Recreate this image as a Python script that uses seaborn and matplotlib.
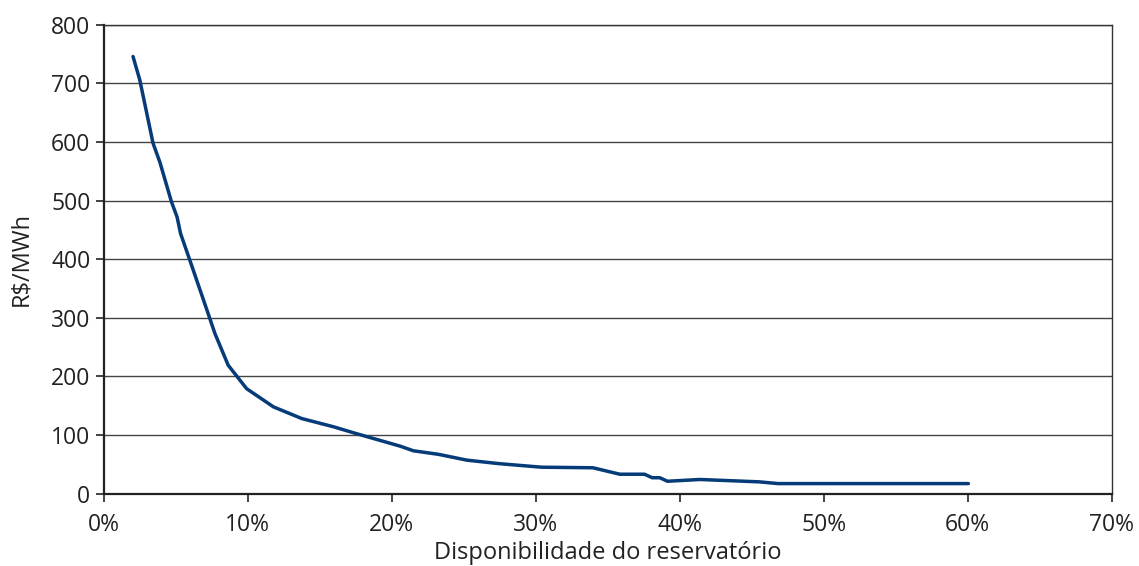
import matplotlib
matplotlib.use("Agg")
import matplotlib.pyplot as plt
import seaborn as sns
import pandas as pd
from matplotlib.ticker import PercentFormatter, MultipleLocator

# Data
disponibilidade = [0.0204, 0.0251, 0.0343, 0.0390, 0.0471, 0.0510, 0.0534, 0.0599,
                   0.0726, 0.0773, 0.0865, 0.0993, 0.1179, 0.1376, 0.1596, 0.1759,
                   0.2058, 0.2151, 0.2324, 0.2523, 0.2748, 0.3040, 0.3398, 0.3584,
                   0.3756, 0.3809, 0.3862, 0.3915, 0.4141, 0.4552, 0.4684, 0.6005]
preco = [746, 706, 598, 566, 498, 472, 444, 398,
         307, 273, 219, 179, 148, 128, 114, 102,
         81, 73, 67, 57, 51, 45, 44, 33,
         33, 27, 27, 21, 24, 20, 17, 17]

x_label = "Disponibilidade do reservatório"
y_label = "R$/MWh"

df = pd.DataFrame({"x": disponibilidade, "y": preco})

sns.set_theme(style="white")
plt.rcParams['font.family'] = ['Open Sans', 'DejaVu Sans']

fig = plt.figure(figsize=(11.39, 5.66), dpi=100)
ax = fig.add_axes([0.091, 0.128, 0.885, 0.828])

sns.lineplot(data=df, x="x", y="y", ax=ax, color="#053b78", linewidth=2.5,
             sort=False, estimator=None)

ax.set_xlim(0, 0.70)
ax.set_ylim(0, 800)
ax.xaxis.set_major_locator(MultipleLocator(0.10))
ax.yaxis.set_major_locator(MultipleLocator(100))
ax.xaxis.set_major_formatter(PercentFormatter(1.0, decimals=0))

ax.grid(axis="y", color="#444444", linewidth=1.0)
ax.set_axisbelow(True)
for side in ["top", "right"]:
    ax.spines[side].set_color("#333333")
    ax.spines[side].set_linewidth(1.0)
for side in ["left", "bottom"]:
    ax.spines[side].set_color("#222222")
    ax.spines[side].set_linewidth(1.6)

ax.tick_params(axis="both", which="major", direction="out", length=5.5, width=1.2,
               color="#222222", labelsize=16.5, labelcolor="#222222")
ax.tick_params(axis="x", bottom=True, pad=8.5)
ax.tick_params(axis="y", left=True, pad=4)

ax.set_xlabel(x_label, fontsize=17, color="#222222", labelpad=3)
ax.set_ylabel(y_label, fontsize=17, color="#222222", labelpad=13)

fig.savefig("out.png", dpi=100)
